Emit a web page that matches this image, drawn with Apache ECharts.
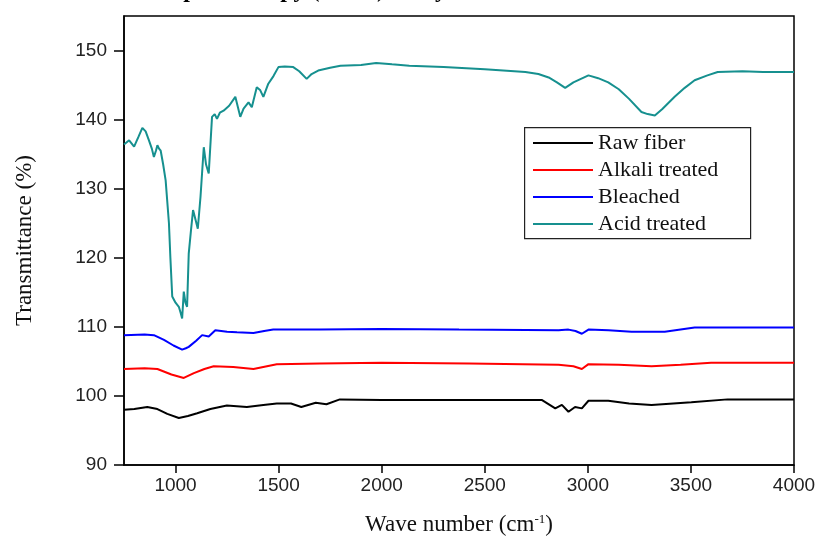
<!DOCTYPE html>
<html>
<head>
<meta charset="utf-8">
<script src="https://cdn.jsdelivr.net/npm/echarts@6/dist/echarts.min.js"></script>
<style>
  html, body { margin: 0; padding: 0; background: #fff; }
  #main { width: 819px; height: 538px; }
</style>
</head>
<body>
<div id="main"></div>
<script>
// series names and colours
const seriesNames = ['Raw fiber', 'Alkali treated', 'Bleached', 'Acid treated'];
const seriesColors = ['#000000', '#ff0000', '#0000ff', '#16908f'];

// axis ticks
const xTicks = [1000, 1500, 2000, 2500, 3000, 3500, 4000];
const yTicks = [90, 100, 110, 120, 130, 140, 150];

// raw fiber
const rawWave = [750, 800, 863, 912, 960, 1016, 1060, 1105, 1169, 1249, 1346, 1426, 1491, 1560, 1610, 1680, 1732, 1797, 2000, 2375, 2778, 2842, 2874, 2906, 2938, 2971, 3003, 3099, 3200, 3309, 3502, 3678, 4000];
const rawT = [98.0, 98.1, 98.4, 98.1, 97.4, 96.8, 97.1, 97.5, 98.1, 98.6, 98.4, 98.7, 98.9, 98.9, 98.4, 99.0, 98.8, 99.5, 99.4, 99.4, 99.4, 98.2, 98.7, 97.7, 98.4, 98.2, 99.3, 99.3, 98.9, 98.7, 99.1, 99.5, 99.5];

// alkali treated
const alkWave = [750, 850, 912, 980, 1040, 1089, 1140, 1185, 1280, 1378, 1491, 1700, 2000, 2424, 2858, 2930, 2971, 3003, 3150, 3309, 3450, 3598, 4000];
const alkT = [103.9, 104.0, 103.9, 103.1, 102.6, 103.3, 103.9, 104.3, 104.2, 103.9, 104.6, 104.7, 104.8, 104.7, 104.5, 104.3, 103.9, 104.6, 104.5, 104.3, 104.5, 104.8, 104.8];

// bleached
const blWave = [750, 850, 895, 944, 990, 1032, 1050, 1064, 1100, 1129, 1161, 1193, 1250, 1298, 1378, 1430, 1474, 1700, 2000, 2375, 2858, 2906, 2940, 2971, 3003, 3100, 3212, 3373, 3518, 4000];
const blT = [108.8, 108.9, 108.8, 108.1, 107.3, 106.7, 106.9, 107.1, 108.0, 108.8, 108.6, 109.5, 109.3, 109.2, 109.1, 109.4, 109.6, 109.6, 109.7, 109.6, 109.5, 109.6, 109.4, 109.0, 109.6, 109.5, 109.3, 109.3, 109.9, 109.9];

// acid treated
const acWave = [750, 775, 799, 820, 839, 855, 871, 885, 895, 905, 912, 920, 928, 940, 952, 968, 975, 984, 1000, 1016, 1025, 1032, 1040, 1048, 1056, 1064, 1075, 1085, 1097, 1108, 1121, 1137, 1148, 1161, 1177, 1190, 1201, 1215, 1233, 1260, 1290, 1314, 1330, 1354, 1370, 1394, 1410, 1426, 1450, 1475, 1499, 1530, 1571, 1600, 1636, 1660, 1692, 1750, 1800, 1900, 1973, 2050, 2134, 2300, 2500, 2697, 2760, 2810, 2850, 2890, 2930, 3003, 3050, 3099, 3150, 3200, 3260, 3290, 3325, 3360, 3421, 3470, 3518, 3580, 3630, 3750, 3850, 4000];
const acT = [136.4, 137.0, 136.1, 137.5, 138.8, 138.3, 137.0, 135.8, 134.6, 135.5, 136.3, 135.8, 135.5, 133.5, 131.2, 125.0, 120.0, 114.4, 113.5, 112.9, 112.0, 111.2, 115.1, 113.5, 112.9, 120.6, 124.0, 126.9, 125.5, 124.2, 128.8, 136.0, 133.5, 132.2, 140.4, 140.8, 140.1, 141.0, 141.3, 142.0, 143.3, 140.4, 141.6, 142.5, 141.8, 144.7, 144.3, 143.3, 145.2, 146.3, 147.6, 147.7, 147.6, 147.0, 145.9, 146.6, 147.1, 147.5, 147.8, 147.9, 148.2, 148.0, 147.8, 147.6, 147.3, 146.9, 146.6, 146.1, 145.4, 144.6, 145.4, 146.4, 146.0, 145.4, 144.4, 143.0, 141.1, 140.8, 140.6, 141.5, 143.3, 144.6, 145.7, 146.4, 146.9, 147.0, 146.9, 146.9];

const waves = [rawWave, alkWave, blWave, acWave];
const values = [rawT, alkT, blT, acT];

const myChart = echarts.init(document.getElementById('main'));

const serif = '"Liberation Serif", "Times New Roman", serif';
const sans = '"Liberation Sans", Arial, sans-serif';

const option = {
  animation: false,
  backgroundColor: '#fff',
  grid: {
    left: 124, right: 25, top: 16, bottom: 73,
    outerBoundsMode: 'none',
    show: true, borderColor: '#000', borderWidth: 1.5
  },
  graphic: [
    {
      // cropped caption at the very top
      type: 'text', left: 170, top: -21,
      style: { text: 'Spectroscopy (FTIR) analysis', font: 'bold 24px ' + serif, fill: '#000' }
    },
    {
      type: 'rect', left: 524, top: 127,
      shape: { width: 226, height: 111 },
      style: { fill: '#fff', stroke: '#222', lineWidth: 1.2 },
      z: 5
    }
  ],
  legend: {
    orient: 'vertical',
    left: 524, top: 127,
    padding: [5, 10, 5, 8],
    itemWidth: 60, itemHeight: 19, itemGap: 5,
    z: 10,
    itemStyle: { opacity: 0 },
    textStyle: { fontFamily: serif, fontSize: 22, color: '#111', lineHeight: 22 },
    data: seriesNames
  },
  xAxis: {
    type: 'value', min: 750, max: 4000,
    name: '{a|Wave number (cm}{s|-1}{a|)}',
    nameLocation: 'middle', nameGap: 48,
    nameTextStyle: {
      rich: {
        a: { fontFamily: serif, fontSize: 23, color: '#111' },
        s: { fontFamily: serif, fontSize: 13, color: '#111', verticalAlign: 'top', padding: [0, 0, 10, 0] }
      }
    },
    axisLine: { lineStyle: { color: '#000', width: 1.5 } },
    axisTick: { inside: false, length: 8, customValues: xTicks, lineStyle: { color: '#000', width: 1.5 } },
    axisLabel: { customValues: xTicks, formatter: v => String(v), fontFamily: sans, fontSize: 19, color: '#222', margin: 11 },
    splitLine: { show: false }
  },
  yAxis: {
    type: 'value', min: 90, max: 155,
    name: 'Transmittance (%)',
    nameLocation: 'middle', nameGap: 88,
    nameTextStyle: { fontFamily: serif, fontSize: 23, color: '#111' },
    axisLine: { lineStyle: { color: '#000', width: 1.5 } },
    axisTick: { inside: false, length: 10, customValues: yTicks, lineStyle: { color: '#000', width: 1.5 } },
    axisLabel: { customValues: yTicks, formatter: v => String(v), fontFamily: sans, fontSize: 19, color: '#222', margin: 17 },
    splitLine: { show: false }
  },
  series: seriesNames.map((name, i) => ({
    name: name,
    type: 'line',
    symbol: 'none',
    data: waves[i].map((w, j) => [w, values[i][j]]),
    lineStyle: { color: seriesColors[i], width: 2 },
    itemStyle: { color: seriesColors[i] }
  }))
};

myChart.setOption(option);
</script>
</body>
</html>
